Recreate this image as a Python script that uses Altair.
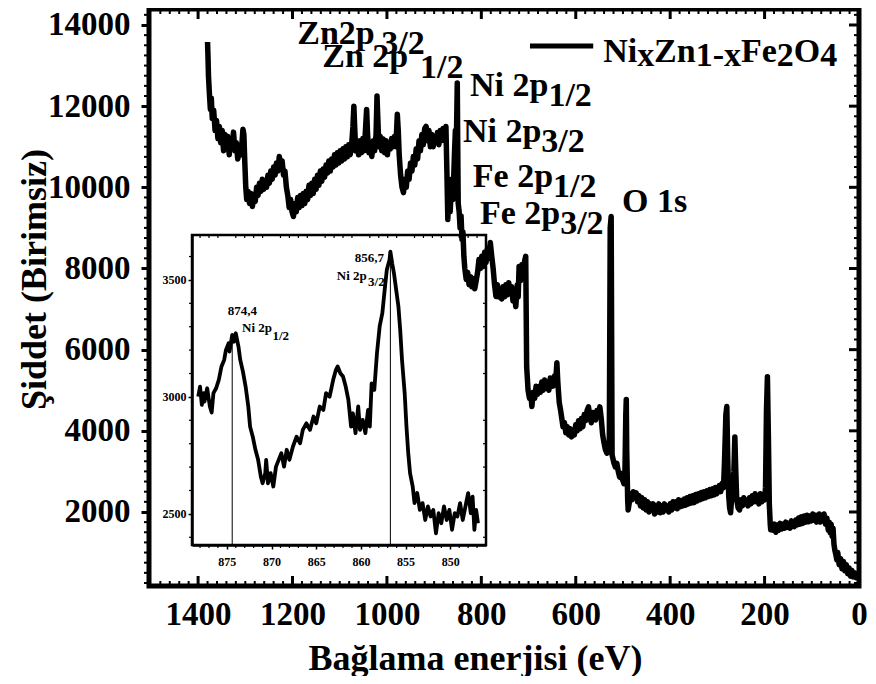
import altair as alt
import pandas as pd

# ---------------- main survey spectrum (binding energy eV, intensity) ----------------
main_E = [1380, 1379, 1378, 1376, 1374, 1372, 1370, 1367, 1364, 1361, 1358, 1355, 1352, 1349, 1346, 1343,
          1340, 1337, 1334, 1331, 1328, 1325, 1322, 1319, 1316, 1313, 1310, 1307, 1305, 1303, 1301, 1299,
          1297, 1294, 1291, 1288, 1285, 1282, 1279, 1276, 1273, 1270, 1267, 1264, 1261, 1258, 1255, 1252,
          1249, 1246, 1243, 1240, 1237, 1234, 1231, 1228, 1225, 1222, 1219, 1216, 1213, 1210, 1207, 1204,
          1201, 1198, 1195, 1192, 1189, 1186, 1183, 1180, 1177, 1174, 1171, 1168, 1165, 1162, 1159, 1156,
          1153, 1150, 1147, 1144, 1141, 1138, 1135, 1132, 1129, 1126, 1123, 1120, 1117, 1114, 1111, 1108,
          1105, 1102, 1099, 1096, 1093, 1090, 1087, 1084, 1081, 1078, 1075, 1072, 1070, 1068, 1066, 1063,
          1060, 1057, 1054, 1051, 1048, 1045, 1043, 1041, 1038, 1035, 1032, 1029, 1026, 1023, 1021, 1019,
          1017, 1014, 1011, 1008, 1005, 1002, 999, 996, 993, 990, 987, 984, 981, 978, 976, 974,
          971, 968, 965, 962, 959, 956, 953, 950, 947, 944, 941, 938, 935, 932, 929, 926,
          923, 920, 917, 914, 911, 908, 905, 902, 899, 896, 893, 890, 887, 884, 881, 878,
          875, 873, 871, 869, 866, 863, 860, 857, 855, 853, 852, 851, 850, 849, 847, 845,
          843, 841, 839, 837, 835, 832, 829, 826, 823, 820, 817, 814, 811, 808, 805, 802,
          799, 796, 793, 790, 787, 784, 781, 778, 775, 772, 769, 766, 763, 760, 757, 754,
          751, 748, 745, 742, 739, 736, 733, 730, 727, 724, 722, 720, 717, 714, 711, 708,
          706, 704, 701, 698, 695, 693, 690, 687, 684, 681, 678, 675, 672, 669, 666, 663,
          660, 657, 654, 651, 648, 645, 642, 640, 638, 635, 632, 630, 627, 624, 621, 618,
          615, 612, 609, 606, 603, 600, 597, 594, 591, 588, 585, 582, 579, 576, 573, 570,
          567, 564, 561, 558, 555, 552, 549, 546, 543, 540, 537, 534, 531, 529, 527, 525,
          523, 521, 519, 516, 513, 510, 507, 504, 501, 498, 496, 494, 493, 492, 490, 489,
          487, 484, 481, 478, 475, 472, 469, 466, 463, 460, 457, 454, 451, 448, 445, 442,
          439, 436, 433, 430, 427, 424, 421, 418, 415, 412, 409, 406, 403, 400, 397, 394,
          391, 388, 385, 382, 379, 376, 373, 370, 367, 364, 361, 358, 355, 352, 349, 346,
          343, 340, 337, 334, 331, 328, 325, 322, 319, 316, 313, 310, 307, 304, 301, 299,
          296, 293, 290, 287, 285, 282, 280, 278, 276, 274, 272, 270, 268, 265, 263, 261,
          259, 256, 253, 250, 247, 244, 241, 238, 235, 232, 229, 226, 223, 220, 217, 215,
          212, 209, 206, 203, 200, 198, 196, 194, 192, 190, 188, 187, 185, 182, 179, 176,
          173, 170, 167, 164, 161, 158, 155, 152, 149, 146, 143, 140, 137, 134, 131, 128,
          125, 122, 119, 116, 113, 110, 107, 104, 101, 98, 95, 92, 90, 88, 86, 84,
          82, 80, 77, 74, 71, 68, 65, 63, 61, 59, 57, 55, 53, 51, 49, 47,
          45, 42, 39, 36, 33, 30, 27, 24, 21, 18, 15, 12, 9, 6, 4]
main_I = [13580, 13200, 12740, 12300, 11920, 12200, 11700, 11900, 11400, 11650, 11200, 11500, 11100, 11400, 10900, 11300,
          11000, 11250, 10800, 11200, 11000, 11360, 10900, 11100, 10700, 10900, 10800, 11100, 11430, 11300, 10600, 10000,
          9700, 9900, 9600, 9850, 9530, 9800, 9650, 10000, 9800, 10100, 9900, 10200, 9950, 10150, 10000, 10300,
          10100, 10400, 10200, 10500, 10300, 10600, 10400, 10760, 10500, 10650, 10300, 10400, 10000, 9800, 9500, 9700,
          9400, 9280, 9600, 9400, 9750, 9500, 9800, 9550, 9850, 9600, 9900, 9700, 10050, 9800, 10100, 9850,
          10200, 9950, 10300, 10050, 10400, 10150, 10450, 10250, 10550, 10350, 10650, 10400, 10700, 10500, 10800, 10550,
          10850, 10600, 10900, 10650, 10950, 10700, 11000, 10750, 11050, 10800, 11000, 11500, 12000, 11400, 10900, 11100,
          10800, 11150, 10850, 11200, 10900, 11500, 11920, 11300, 10850, 11100, 10760, 11150, 10900, 11300, 12250, 11600,
          11000, 11250, 10900, 11190, 10850, 11150, 10800, 11100, 10940, 11200, 11000, 11250, 11000, 11800, 11400, 10800,
          10300, 10000, 9870, 10200, 10000, 10400, 10200, 10600, 10400, 10760, 10550, 10950, 10700, 11150, 10900, 11300,
          11050, 11450, 11500, 11150, 11400, 11000, 11300, 11000, 11250, 11110, 11350, 11050, 11400, 11150, 11450, 11200,
          11500, 10400, 9210, 9900, 9400, 10200, 9700, 10800, 11400, 11000, 11800, 12570, 11000, 9600, 9400, 9000,
          9300, 8715, 8900, 8300, 8000, 7730, 7900, 7600, 7800, 7550, 7750, 7500, 7700, 7900, 8220, 8000,
          8300, 8050, 8400, 8150, 8500, 8250, 8640, 8300, 8000, 7600, 7310, 7600, 7300, 7500, 7250, 7550,
          7300, 7600, 7350, 7650, 7400, 7550, 7200, 7400, 7060, 7600, 7300, 8050, 7700, 8100, 7800, 8200,
          8300, 5580, 5000, 4800, 4900, 4600, 4950, 4800, 5100, 4900, 5090, 4950, 5200, 5000, 5250, 5050,
          5180, 5000, 5300, 5260, 5100, 5350, 5300, 5680, 5200, 4700, 4500, 4340, 4100, 4200, 3950, 4100,
          3900, 4050, 3850, 4000, 3900, 4150, 4000, 4250, 4050, 4300, 4100, 4400, 4250, 4500, 4590, 4350,
          4200, 4450, 4300, 4270, 4500, 4350, 4590, 4300, 3900, 3700, 3530, 3450, 3600, 3500, 9000, 9280,
          3400, 3300, 3200, 3110, 3200, 3000, 2860, 2950, 2800, 2700, 2800, 4400, 4770, 3500, 2300, 2050,
          2200, 2450, 2300, 2500, 2350, 2470, 2250, 2400, 2150, 2350, 2100, 2300, 2050, 2250, 2000, 2200,
          2050, 2200, 1950, 2150, 2000, 2200, 1980, 2150, 2000, 2200, 2050, 2150, 2000, 2200, 2050, 2250,
          2100, 2250, 2080, 2300, 2130, 2280, 2150, 2320, 2170, 2350, 2200, 2380, 2220, 2400, 2230, 2430,
          2270, 2450, 2300, 2480, 2330, 2500, 2350, 2520, 2380, 2550, 2400, 2570, 2420, 2600, 2450, 2550,
          2650, 2500, 2700, 2600, 3200, 4400, 4600, 3300, 2400, 2100, 1980, 2300, 2500, 3000, 3850, 3000,
          2300, 2100, 2050, 2300, 2150, 2350, 2200, 2300, 2150, 2350, 2200, 2400, 2250, 2450, 2250, 2370,
          2200, 2450, 2250, 2400, 2300, 2600, 4500, 5330, 3900, 2200, 1700, 1560, 1700, 1550, 1700, 1500,
          1680, 1550, 1720, 1580, 1700, 1600, 1750, 1620, 1720, 1600, 1780, 1650, 1640, 1800, 1680, 1850,
          1700, 1880, 1720, 1900, 1750, 1920, 1760, 1900, 1780, 1950, 1800, 1920, 1750, 1880, 1780, 1950,
          1750, 1900, 1800, 1950, 1700, 1850, 1550, 1750, 1490, 1700, 1400, 1600, 1200, 1050, 950, 820,
          1000, 700, 850, 600, 780, 550, 700, 480, 620, 420, 560, 400, 500, 380, 450]

# ---------------- inset: Ni 2p high-resolution region ----------------
inset_E = [878.2, 878.0, 877.8, 877.6, 877.5, 877.2, 876.9, 876.7, 876.5, 876.2, 875.9, 875.6, 875.3, 875.1,
           874.8, 874.7, 874.4, 874.2, 874.0, 873.7, 873.5, 873.2, 872.9, 872.6, 872.4, 872.1, 871.8, 871.5,
           871.2, 871.0, 870.7, 870.6, 870.4, 870.1, 869.8, 869.5, 869.2, 868.9, 868.6, 868.3, 868.0, 867.6,
           867.2, 866.8, 866.5, 866.1, 865.7, 865.3, 865.0, 864.6, 864.2, 863.9, 863.5, 863.1, 862.8, 862.6,
           862.3, 862.0, 861.7, 861.4, 861.1, 860.9, 860.6, 860.3, 860.1, 859.8, 859.5, 859.2, 859.0, 858.8,
           858.5, 858.2, 857.9, 857.6, 857.3, 857.1, 856.8, 856.7, 856.5, 856.3, 856.0, 855.8, 855.6, 855.4,
           855.1, 854.9, 854.7, 854.5, 854.2, 854.0, 853.7, 853.4, 853.1, 852.8, 852.5, 852.2, 851.9, 851.6,
           851.3, 851.0, 850.7, 850.4, 850.1, 849.8, 849.5, 849.2, 848.9, 848.6, 848.3, 848.0, 847.7, 847.5,
           847.3, 847.1, 846.9]
inset_I = [3001, 3044, 2966, 3016, 2980, 3037, 2959, 2933, 3016, 3037, 3073, 3130, 3158, 3201,
           3229, 3194, 3265, 3236, 3272, 3215, 3158, 3108, 3044, 2959, 2873, 2830, 2774, 2731,
           2660, 2631, 2674, 2731, 2631, 2674, 2617, 2702, 2731, 2759, 2702, 2774, 2731, 2788,
           2830, 2802, 2859, 2887, 2859, 2916, 2887, 2959, 2944, 3016, 3001, 3073, 3115, 3130,
           3101, 3087, 3044, 2987, 2873, 2930, 2845, 2959, 2859, 2902, 2845, 2944, 2873, 3058,
           3030, 3187, 3301, 3358, 3472, 3543, 3585, 3621, 3571, 3528, 3443, 3386, 3286, 3158,
           3016, 2873, 2759, 2674, 2617, 2546, 2589, 2517, 2546, 2474, 2532, 2489, 2517, 2417,
           2503, 2460, 2532, 2474, 2517, 2432, 2503, 2489, 2546, 2474, 2532, 2589, 2503, 2574,
           2432, 2517, 2460]
inset_peak_E = [874.4, 856.7]
inset_peak_I = [3265, 3621]

# ---------------- axes / ticks ----------------
x_major_ticks = [0, 200, 400, 600, 800, 1000, 1200, 1400]
x_minor_ticks = [v for v in range(20, 1500, 20) if v % 200 != 0]
y_major_ticks = [2000, 4000, 6000, 8000, 10000, 12000, 14000]
y_minor_ticks = [v for v in range(250, 14394, 250) if v % 2000 != 0]
inset_x_ticks = [875, 870, 865, 860, 855, 850]
inset_x_minor = [v for v in range(847, 879) if v % 5 != 0]
inset_y_ticks = [2500, 3000, 3500]
inset_y_minor = [2400, 2600, 2700, 2800, 2900, 3100, 3200, 3300, 3400, 3600]

X_DOMAIN = [1504, 0]
Y_DOMAIN = [176, 14394]
INSET_X_DOMAIN = [878.9, 846.0]
INSET_Y_DOMAIN = [2367, 3692]

# ---------------- annotations ----------------
ann_text = ["Zn2p", "Zn 2p", "Ni 2p", "Ni 2p", "Fe 2p", "Fe 2p", "O 1s"]
ann_E = [1190, 1137, 824, 839, 818, 803, 502]
ann_I = [13530, 12963, 12247, 11111, 10000, 9087, 9383]
sub_text = ["3/2", "1/2", "1/2", "3/2", "1/2", "3/2"]
sub_E = [1012, 930, 658, 673, 648, 633]
sub_I = [13290, 12691, 12000, 10864, 9754, 8840]

legend_line_E = [697, 563]
legend_line_I = [13481, 13481]
leg_text = ["Ni", "Zn", "Fe", "O"]
leg_E = [542, 434, 250, 138]
leg_I = [13086, 13086, 13086, 13086]
leg_sub_text = ["x", "1-x", "2", "4"]
leg_sub_E = [470, 346, 174, 82]
leg_sub_I = [12987, 12987, 12987, 12987]

inset_lab_text = ["874,4", "Ni 2p", "856,7", "Ni 2p"]
inset_lab_E = [874.9, 873.3, 860.7, 862.7]
inset_lab_I = [3350, 3278, 3577, 3500]
inset_sub_text = ["1/2", "3/2"]
inset_sub_E = [869.9, 859.2]
inset_sub_I = [3244, 3474]

FONT = "Liberation Serif"
W, H = 710, 577

xs = alt.Scale(domain=X_DOMAIN, nice=False, zero=False)
ys = alt.Scale(domain=Y_DOMAIN, nice=False, zero=False)

x_axis = alt.Axis(orient="bottom", values=x_major_ticks, ticks=False, tickSize=0, domain=False, grid=False,
                  format="d", labelFont=FONT, labelFontSize=33, labelFontWeight="bold", labelColor="black",
                  labelPadding=12, labelFlush=False, labelOverlap=False,
                  title="Bağlama enerjisi (eV)", titleFont=FONT, titleFontSize=36, titleFontWeight="bold",
                  titleColor="black", titleX=326, titleY=83, titleAlign="center", titleBaseline="alphabetic")
y_axis = alt.Axis(orient="left", values=y_major_ticks, tickSize=8, tickWidth=3, tickColor="black",
                  domain=False, grid=False, format="d", labelFont=FONT, labelFontSize=33,
                  labelFontWeight="bold", labelColor="black", labelPadding=11, labelOverlap=False,
                  title="Şiddet (Birimsiz)", titleFont=FONT, titleFontSize=36, titleFontWeight="bold",
                  titleColor="black", titleX=-104, titleY=270, titleAngle=270, titleAlign="center",
                  titleBaseline="alphabetic")

X = lambda: alt.X("E:Q", scale=xs, axis=x_axis)
Y = lambda: alt.Y("I:Q", scale=ys, axis=y_axis)

main_df = pd.DataFrame({"E": main_E, "I": main_I})
main_df["idx"] = range(len(main_df))
main_line = alt.Chart(main_df).mark_line(color="black", strokeWidth=5.5, strokeJoin="round").encode(
    x=X(), y=Y(), order="idx:Q")

frame_df = pd.DataFrame({"E": [X_DOMAIN[0]], "E2": [X_DOMAIN[1]], "I": [Y_DOMAIN[0]], "I2": [Y_DOMAIN[1]]})
main_frame = alt.Chart(frame_df).mark_rect(filled=False, color="black", strokeWidth=5).encode(
    x=X(), x2="E2:Q", y=Y(), y2="I2:Q")

xmaj = pd.DataFrame({"E": x_major_ticks})
xmin = pd.DataFrame({"E": x_minor_ticks})
ymaj = pd.DataFrame({"I": y_major_ticks})
ymin = pd.DataFrame({"I": y_minor_ticks})

tick_layers = [
    alt.Chart(xmaj).mark_rule(color="black", strokeWidth=3).encode(x=X(), y=alt.value(H), y2=alt.value(H - 10)),
    alt.Chart(xmin).mark_rule(color="black", strokeWidth=2).encode(x=X(), y=alt.value(H), y2=alt.value(H - 5)),
    alt.Chart(xmaj).mark_rule(color="black", strokeWidth=3).encode(x=X(), y=alt.value(0), y2=alt.value(10)),
    alt.Chart(xmin).mark_rule(color="black", strokeWidth=2).encode(x=X(), y=alt.value(0), y2=alt.value(5)),
    alt.Chart(ymaj).mark_rule(color="black", strokeWidth=3).encode(y=Y(), x=alt.value(W), x2=alt.value(W - 10)),
    alt.Chart(ymin).mark_rule(color="black", strokeWidth=2).encode(y=Y(), x=alt.value(W), x2=alt.value(W - 5)),
    alt.Chart(ymin).mark_rule(color="black", strokeWidth=2).encode(y=Y(), x=alt.value(0), x2=alt.value(-5)),
]

def texts(df, size):
    return alt.Chart(df).mark_text(align="left", baseline="alphabetic", font=FONT, fontWeight="bold",
                                   fontSize=size, color="black").encode(x=X(), y=Y(), text="label:N")

ann_layer = texts(pd.DataFrame({"E": ann_E, "I": ann_I, "label": ann_text}), 34)
sub_layer = texts(pd.DataFrame({"E": sub_E, "I": sub_I, "label": sub_text}), 34)
leg_layer = texts(pd.DataFrame({"E": leg_E, "I": leg_I, "label": leg_text}), 34)
leg_sub_layer = texts(pd.DataFrame({"E": leg_sub_E, "I": leg_sub_I, "label": leg_sub_text}), 34)
leg_line = alt.Chart(pd.DataFrame({"E": legend_line_E, "I": legend_line_I})).mark_line(
    color="black", strokeWidth=5).encode(x=X(), y=Y())

main_group = alt.layer(main_frame, *tick_layers, main_line, leg_line, ann_layer, sub_layer,
                       leg_layer, leg_sub_layer)

# ---------------- inset ----------------
IX0, IX1, IY0, IY1 = 43, 337, 536, 226
xsi = alt.Scale(domain=INSET_X_DOMAIN, range=[IX0, IX1], nice=False, zero=False)
ysi = alt.Scale(domain=INSET_Y_DOMAIN, range=[IY0, IY1], nice=False, zero=False)
xi_axis = alt.Axis(orient="bottom", offset=IY0 - H, values=inset_x_ticks, tickSize=4, tickWidth=1.5,
                   tickColor="black", domainColor="black", domainWidth=2.5, grid=False, format="d",
                   labelFont=FONT, labelFontSize=12, labelFontWeight="bold", labelColor="black",
                   labelPadding=7, labelFlush=False, title=None, zindex=1)
yi_axis = alt.Axis(orient="left", offset=-IX0, values=inset_y_ticks, tickSize=4, tickWidth=1.5,
                   tickColor="black", domainColor="black", domainWidth=2.5, grid=False, format="d",
                   labelFont=FONT, labelFontSize=12, labelFontWeight="bold", labelColor="black",
                   labelPadding=2, title=None, zindex=1)
XI = lambda: alt.X("Ei:Q", scale=xsi, axis=xi_axis)
YI = lambda: alt.Y("Ii:Q", scale=ysi, axis=yi_axis)

inset_df = pd.DataFrame({"Ei": inset_E, "Ii": inset_I})
inset_df["idx"] = range(len(inset_df))
inset_line = alt.Chart(inset_df).mark_line(color="black", strokeWidth=3.8, strokeJoin="round").encode(
    x=XI(), y=YI(), order="idx:Q")
iframe_df = pd.DataFrame({"Ei": [INSET_X_DOMAIN[0]], "Ei2": [INSET_X_DOMAIN[1]],
                          "Ii": [INSET_Y_DOMAIN[0]], "Ii2": [INSET_Y_DOMAIN[1]]})
inset_frame = alt.Chart(iframe_df).mark_rect(filled=False, color="black", strokeWidth=2.5).encode(
    x=XI(), x2="Ei2:Q", y=YI(), y2="Ii2:Q")
peak_df = pd.DataFrame({"Ei": inset_peak_E, "Ii": inset_peak_I, "Ib": [INSET_Y_DOMAIN[0]] * 2})
peak_rules = alt.Chart(peak_df).mark_rule(color="black", strokeWidth=1).encode(x=XI(), y=YI(), y2="Ib:Q")

ixmin = pd.DataFrame({"Ei": inset_x_minor})
iymin = pd.DataFrame({"Ii": inset_y_minor})
inset_ticks = [
    alt.Chart(ixmin).mark_rule(color="black", strokeWidth=1.2).encode(x=XI(), y=alt.value(IY1), y2=alt.value(IY1 + 3)),
    alt.Chart(ixmin).mark_rule(color="black", strokeWidth=1.2).encode(x=XI(), y=alt.value(IY0), y2=alt.value(IY0 + 3)),
    alt.Chart(iymin).mark_rule(color="black", strokeWidth=1.2).encode(y=YI(), x=alt.value(IX1), x2=alt.value(IX1 - 3)),
    alt.Chart(iymin).mark_rule(color="black", strokeWidth=1.2).encode(y=YI(), x=alt.value(IX0), x2=alt.value(IX0 - 3)),
]

def itexts(df, size):
    return alt.Chart(df).mark_text(align="left", baseline="alphabetic", font=FONT, fontWeight="bold",
                                   fontSize=size, color="black").encode(x=XI(), y=YI(), text="label:N")

inset_lab = itexts(pd.DataFrame({"Ei": inset_lab_E, "Ii": inset_lab_I, "label": inset_lab_text}), 13)
inset_sub = itexts(pd.DataFrame({"Ei": inset_sub_E, "Ii": inset_sub_I, "label": inset_sub_text}), 13)

inset_group = alt.layer(inset_frame, *inset_ticks, peak_rules, inset_line, inset_lab, inset_sub)

chart = alt.layer(inset_group, main_group).resolve_scale(x="independent", y="independent").properties(
    width=W, height=H,
    autosize=alt.AutoSizeParams(type="none"),
    padding={"left": 141, "top": 1, "right": 9, "bottom": 90},
).configure_view(strokeWidth=0).configure(background="white")

chart.save("out.html", embed_options={"renderer": "svg", "actions": False})
